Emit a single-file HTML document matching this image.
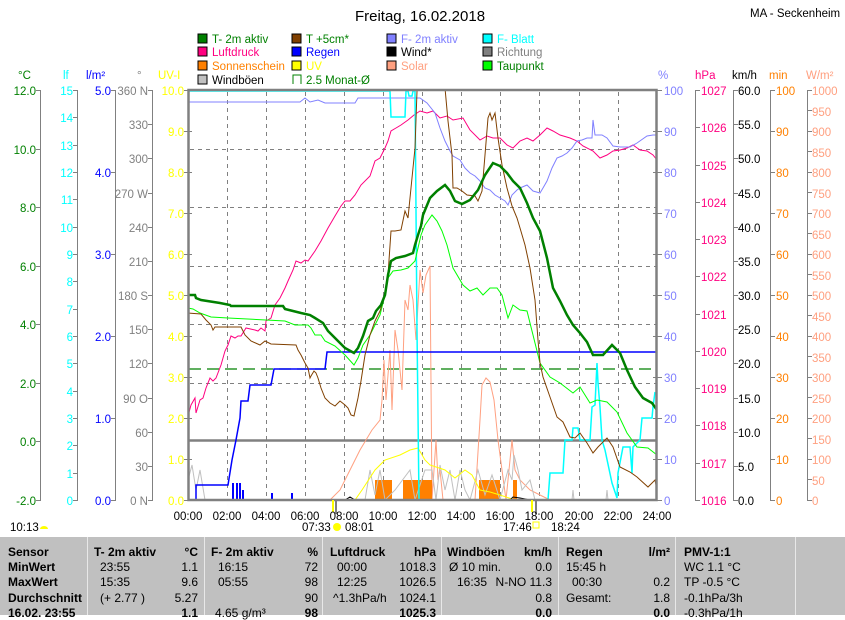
<!DOCTYPE html><html><head><meta charset="utf-8"><style>
body{margin:0;width:845px;height:615px;overflow:hidden;background:#fff;font-family:"Liberation Sans",sans-serif}
svg text{font-family:"Liberation Sans",sans-serif;font-size:11.5px}
.tb{position:absolute;left:0;top:537px;width:845px;height:78px;background:#c0c0c0;font-size:12px;font-family:"Liberation Sans",sans-serif}
.tb div{position:absolute;white-space:nowrap}
.b{font-weight:bold}
.sep{position:absolute;top:0;width:1px;height:78px;background:#e8e8e8}
</style></head><body>
<svg width="845" height="537" style="position:absolute;left:0;top:0">
<defs><clipPath id="pc"><rect x="189" y="90" width="468" height="410"/></clipPath></defs>
<text x="420" y="21" text-anchor="middle" style="font-size:15px">Freitag, 16.02.2018</text>
<text x="750" y="17">MA - Seckenheim</text>
<g stroke="#000" stroke-width="1">
<rect x="198" y="34" width="9" height="9" fill="#008000"/><rect x="292" y="34" width="9" height="9" fill="#804000"/><rect x="387" y="34" width="9" height="9" fill="#8080ff"/><rect x="483" y="34" width="9" height="9" fill="#00ffff"/>
<rect x="198" y="47" width="9" height="9" fill="#ff0080"/><rect x="292" y="47" width="9" height="9" fill="#0000ff"/><rect x="387" y="47" width="9" height="9" fill="#000"/><rect x="483" y="47" width="9" height="9" fill="#808080"/>
<rect x="198" y="61" width="9" height="9" fill="#ff8000"/><rect x="292" y="61" width="9" height="9" fill="#ffff00"/><rect x="387" y="61" width="9" height="9" fill="#ffa080"/><rect x="483" y="61" width="9" height="9" fill="#00ff00"/>
<rect x="198" y="75" width="9" height="9" fill="#c0c0c0"/>
</g>
<path d="M293 84V75h8v9" fill="none" stroke="#008000"/>
<text x="212" y="43" fill="#008000">T- 2m aktiv</text><text x="306" y="43" fill="#008000">T +5cm*</text><text x="401" y="43" fill="#8080ff">F- 2m aktiv</text><text x="497" y="43" fill="#00ffff">F- Blatt</text>
<text x="212" y="56" fill="#ff0080">Luftdruck</text><text x="306" y="56" fill="#0000ff">Regen</text><text x="401" y="56">Wind*</text><text x="497" y="56" fill="#808080">Richtung</text>
<text x="212" y="70" fill="#ff8000">Sonnenschein</text><text x="306" y="70" fill="#ffff00">UV</text><text x="401" y="70" fill="#ffa080">Solar</text><text x="497" y="70" fill="#008000">Taupunkt</text>
<text x="212" y="84">Windböen</text><text x="306" y="84" fill="#008000">2.5 Monat-Ø</text>
<text x="18" y="79" fill="#008000">°C</text><text x="63" y="79" fill="#00ffff">lf</text><text x="86" y="79" fill="#0000ff">l/m²</text><text x="137" y="79" fill="#808080">°</text><text x="158" y="79" fill="#ffff00">UV-I</text>
<text x="658" y="79" fill="#8080ff">%</text><text x="695" y="79" fill="#ff0080">hPa</text><text x="732" y="79">km/h</text><text x="769" y="79" fill="#ff8000">min</text><text x="806" y="79" fill="#ffa080">W/m²</text>
<g stroke="#808080" stroke-width="1"><line x1="40.5" y1="90" x2="40.5" y2="500"/><line x1="77.5" y1="90" x2="77.5" y2="500"/><line x1="115.5" y1="90" x2="115.5" y2="500"/><line x1="152.5" y1="90" x2="152.5" y2="500"/>
<line x1="695.5" y1="90" x2="695.5" y2="500"/><line x1="733.5" y1="90" x2="733.5" y2="500"/><line x1="770.5" y1="90" x2="770.5" y2="500"/><line x1="807.5" y1="90" x2="807.5" y2="500"/></g>
<g stroke="#808080" stroke-dasharray="4,4"><path d="M190 149.5H656M190 207.5H656M190 266.5H656M190 324.5H656M190 383.5H656"/>
<path d="M227.5 92V500M266.5 92V500M305.5 92V500M344.5 92V500M383.5 92V500M422.5 92V500M461.5 92V500M500.5 92V500M539.5 92V500M579.5 92V500M618.5 92V500"/></g>
<line x1="189" y1="440.5" x2="657" y2="440.5" stroke="#808080" stroke-width="2.5"/>
<line x1="189" y1="369" x2="657" y2="369" stroke="#008000" stroke-width="1.2" stroke-dasharray="12,6"/>
<g fill="#008000" text-anchor="end"><text x="36" y="95">12.0</text><text x="36" y="154">10.0</text><text x="36" y="212">8.0</text><text x="36" y="271">6.0</text><text x="36" y="329">4.0</text><text x="36" y="388">2.0</text><text x="36" y="446">0.0</text><text x="36" y="505">-2.0</text></g>
<path d="M36 90.5h5M36 149.5h5M36 207.5h5M36 266.5h5M36 324.5h5M36 383.5h5M36 441.5h5M36 500.5h5" stroke="#808080"/>
<g fill="#00ffff" text-anchor="end"><text x="73" y="95">15</text><text x="73" y="122">14</text><text x="73" y="150">13</text><text x="73" y="177">12</text><text x="73" y="204">11</text><text x="73" y="232">10</text><text x="73" y="259">9</text><text x="73" y="286">8</text><text x="73" y="314">7</text><text x="73" y="341">6</text><text x="73" y="368">5</text><text x="73" y="396">4</text><text x="73" y="423">3</text><text x="73" y="450">2</text><text x="73" y="478">1</text><text x="73" y="505">0</text></g>
<path d="M73 90.5h5M73 117.5h5M73 145.5h5M73 172.5h5M73 199.5h5M73 227.5h5M73 254.5h5M73 281.5h5M73 309.5h5M73 336.5h5M73 363.5h5M73 391.5h5M73 418.5h5M73 445.5h5M73 473.5h5M73 500.5h5" stroke="#808080"/>
<g fill="#0000ff" text-anchor="end"><text x="111" y="95">5.0</text><text x="111" y="177">4.0</text><text x="111" y="259">3.0</text><text x="111" y="341">2.0</text><text x="111" y="423">1.0</text><text x="111" y="505">0.0</text></g>
<path d="M111 90.5h5M111 172.5h5M111 254.5h5M111 336.5h5M111 418.5h5M111 500.5h5" stroke="#808080"/>
<g fill="#808080" text-anchor="end"><text x="148" y="95">360 N</text><text x="148" y="129">330</text><text x="148" y="163">300</text><text x="148" y="198">270 W</text><text x="148" y="232">240</text><text x="148" y="266">210</text><text x="148" y="300">180 S</text><text x="148" y="334">150</text><text x="148" y="368">120</text><text x="148" y="403">90 O</text><text x="148" y="437">60</text><text x="148" y="471">30</text><text x="148" y="505">0   N</text></g>
<path d="M148 90.5h5M148 124.5h5M148 158.5h5M148 193.5h5M148 227.5h5M148 261.5h5M148 295.5h5M148 329.5h5M148 363.5h5M148 398.5h5M148 432.5h5M148 466.5h5M148 500.5h5" stroke="#808080"/>
<g fill="#ffff00" text-anchor="end"><text x="184" y="95">10.0</text><text x="184" y="136">9.0</text><text x="184" y="177">8.0</text><text x="184" y="218">7.0</text><text x="184" y="259">6.0</text><text x="184" y="300">5.0</text><text x="184" y="341">4.0</text><text x="184" y="382">3.0</text><text x="184" y="423">2.0</text><text x="184" y="464">1.0</text><text x="184" y="505">0.0</text></g>
<path d="M184 90.5h5M184 131.5h5M184 172.5h5M184 213.5h5M184 254.5h5M184 295.5h5M184 336.5h5M184 377.5h5M184 418.5h5M184 459.5h5M184 500.5h5M188 131.5h4M188 172.5h4M188 213.5h4M188 254.5h4M188 295.5h4M188 336.5h4M188 377.5h4M188 418.5h4M188 459.5h4" stroke="#808080"/>
<g fill="#8080ff"><text x="664" y="95">100</text><text x="664" y="136">90</text><text x="664" y="177">80</text><text x="664" y="218">70</text><text x="664" y="259">60</text><text x="664" y="300">50</text><text x="664" y="341">40</text><text x="664" y="382">30</text><text x="664" y="423">20</text><text x="664" y="464">10</text><text x="664" y="505">0</text></g>
<path d="M657 90.5h5M657 131.5h5M657 172.5h5M657 213.5h5M657 254.5h5M657 295.5h5M657 336.5h5M657 377.5h5M657 418.5h5M657 459.5h5M657 500.5h5M653 131.5h4M653 172.5h4M653 213.5h4M653 254.5h4M653 295.5h4M653 336.5h4M653 377.5h4M653 418.5h4M653 459.5h4M695 90.5h5M695 127.5h5M695 165.5h5M695 202.5h5M695 239.5h5M695 276.5h5M695 314.5h5M695 351.5h5M695 388.5h5M695 425.5h5M695 463.5h5M695 500.5h5" stroke="#808080"/>
<g fill="#ff0080"><text x="701" y="95">1027</text><text x="701" y="132">1026</text><text x="701" y="170">1025</text><text x="701" y="207">1024</text><text x="701" y="244">1023</text><text x="701" y="281">1022</text><text x="701" y="319">1021</text><text x="701" y="356">1020</text><text x="701" y="393">1019</text><text x="701" y="430">1018</text><text x="701" y="468">1017</text><text x="701" y="505">1016</text></g>
<g><text x="738" y="95">60.0</text><text x="738" y="129">55.0</text><text x="738" y="163">50.0</text><text x="738" y="198">45.0</text><text x="738" y="232">40.0</text><text x="738" y="266">35.0</text><text x="738" y="300">30.0</text><text x="738" y="334">25.0</text><text x="738" y="368">20.0</text><text x="738" y="403">15.0</text><text x="738" y="437">10.0</text><text x="738" y="471">5.0</text><text x="738" y="505">0.0</text></g>
<path d="M733 90.5h5M733 124.5h5M733 158.5h5M733 193.5h5M733 227.5h5M733 261.5h5M733 295.5h5M733 329.5h5M733 363.5h5M733 398.5h5M733 432.5h5M733 466.5h5M733 500.5h5M770 90.5h5M770 131.5h5M770 172.5h5M770 213.5h5M770 254.5h5M770 295.5h5M770 336.5h5M770 377.5h5M770 418.5h5M770 459.5h5M770 500.5h5" stroke="#808080"/>
<g fill="#ff8000"><text x="776" y="95">100</text><text x="776" y="136">90</text><text x="776" y="177">80</text><text x="776" y="218">70</text><text x="776" y="259">60</text><text x="776" y="300">50</text><text x="776" y="341">40</text><text x="776" y="382">30</text><text x="776" y="423">20</text><text x="776" y="464">10</text><text x="776" y="505">0</text></g>
<g fill="#ffa080"><text x="812" y="95">1000</text><text x="812" y="116">950</text><text x="812" y="136">900</text><text x="812" y="157">850</text><text x="812" y="177">800</text><text x="812" y="198">750</text><text x="812" y="218">700</text><text x="812" y="239">650</text><text x="812" y="259">600</text><text x="812" y="280">550</text><text x="812" y="300">500</text><text x="812" y="321">450</text><text x="812" y="341">400</text><text x="812" y="362">350</text><text x="812" y="382">300</text><text x="812" y="403">250</text><text x="812" y="423">200</text><text x="812" y="444">150</text><text x="812" y="464">100</text><text x="812" y="485">50</text><text x="812" y="505">0</text></g>
<path d="M807 90.5h5M807 110.5h5M807 131.5h5M807 151.5h5M807 172.5h5M807 192.5h5M807 213.5h5M807 233.5h5M807 254.5h5M807 274.5h5M807 295.5h5M807 315.5h5M807 336.5h5M807 356.5h5M807 377.5h5M807 397.5h5M807 418.5h5M807 438.5h5M807 459.5h5M807 479.5h5M807 500.5h5" stroke="#808080"/>
<g clip-path="url(#pc)">
<polyline fill="none" stroke="#ffa080" points="330,500 340,490 350,470 360,450 372,430 380,420 382,400 384,360 386,400 390,350 392,410 395,330 398,350 402,390 405,300 408,310 410,285 413,300 416,340 420,270 423,293 426,275 430,266 432,500 436,440 438,480 440,470 443,500 475,500 480,420 482,385 486,378 490,382 494,400 498,440 502,470 506,500 512,440 515,470 520,480 530,490 540,495 550,500"/>
<g fill="#ff8000"><rect x="375" y="480" width="17" height="20"/><rect x="403" y="480" width="29" height="20"/><rect x="479" y="480" width="21" height="20"/><rect x="513" y="480" width="4" height="20"/></g>
<polyline fill="none" stroke="#c0c0c0" points="188,480 192,465 196,490 200,470 205,500 365,500 370,470 375,495 380,470 385,500 395,490 410,470 415,500 425,470 432,470 436,500 440,465 445,490 450,470 455,500 460,470 465,490 470,500 478,470 485,495 492,475 500,500 508,470 512,480 514,455 518,470 522,490 530,480 535,500 572,500 573,490 574,500 606,500 607,490 608,500"/>
<polyline fill="none" stroke="#ffff00" points="355,500 362,490 375,470 385,460 400,455 410,450 418,448 425,460 430,465 445,470 455,478 465,470 472,475 480,490 490,492 500,495 515,500"/>
<polyline fill="none" stroke="#000" points="345,500 350,497 355,500 510,500 513,497 520,498 530,500"/>
<polyline fill="none" stroke="#ff0080" points="188,416 191,405 195,398 196,413 200,400 203,398 206,388 210,378 213,381 216,378 221,365 225,351 228,345 231,336 235,338 238,336 241,336 246,328 255,330 258,331 261,328 265,331 266,321 271,318 275,305 280,298 285,288 288,281 293,270 296,261 301,263 305,260 308,261 315,251 321,241 328,228 335,216 341,206 345,201 350,201 355,195 361,185 370,176 375,161 380,158 385,148 388,141 391,131 396,128 401,125 408,120 414,115 420,111 427,113 433,111 440,118 447,116 453,120 463,118 470,130 480,140 487,136 493,138 500,138 507,145 513,148 520,141 527,138 533,141 540,135 547,128 553,131 560,135 570,138 577,141 583,146 593,151 600,158 607,155 613,151 620,150 627,148 633,145 640,150 647,151 653,155 657,160"/>
<polyline fill="none" stroke="#8080ff" points="188,102 300,102 305,98 310,102 318,100 325,103 355,103 358,98 420,98 427,103 435,113 440,128 445,141 450,151 453,156 460,160 465,168 470,173 475,176 480,181 485,188 490,190 495,195 500,198 505,201 508,205 512,195 517,190 520,188 527,185 533,191 540,193 543,188 547,181 552,168 557,158 562,156 567,153 572,148 577,141 582,140 587,138 592,138 593,120 595,135 602,135 607,138 613,146 620,147 630,147 637,143 647,136 653,135 657,135"/>
<polyline fill="none" stroke="#00ffff" stroke-width="1.5" points="189,91 390,91 391,117 405,117 406,91 408,91 409,96 412,96 413,91 415,91 417,330 419,500 548,500 550,473 563,473 565,440 572,440 573,428 578,428 580,440 590,440 592,407 595,405 597,363 598,383 600,407 602,440 605,450 612,483 617,498 618,473 623,447 630,447 632,473 633,447 640,440 642,418 652,418 653,407 655,392"/>
<polyline fill="none" stroke="#0000ff" stroke-width="1.5" points="196,500 196,485 228,485 232,460 236,440 240,418 241,401 248,401 250,385 271,385 274,369 325,369 327,352 657,352"/>
<g stroke="#0000ff" stroke-width="2"><path d="M233 483V500M237 483V500M240 483V500M243 490V500M272 493V500M292 493V500"/></g>
<polyline fill="none" stroke="#00ff00" points="188,308 193,309 200,313 211,317 228,318 285,321 295,325 308,325 311,328 315,335 321,335 325,341 335,346 345,355 354,365 358,358 363,345 370,335 375,325 380,315 385,295 388,278 393,271 401,270 408,268 415,261 418,248 421,235 425,225 432,215 437,221 442,231 447,245 453,268 463,285 470,291 477,288 483,295 490,288 497,288 502,295 508,318 513,305 520,310 527,311 533,335 540,363 550,377 560,383 573,393 580,387 590,403 597,400 607,402 617,412 627,433 637,447 648,448 657,455"/>
<polyline fill="none" stroke="#804000" points="188,313 201,314 206,320 211,325 213,330 215,327 241,327 245,335 251,341 260,345 265,341 271,344 296,345 298,350 301,355 305,363 308,368 310,378 311,376 314,371 316,373 318,378 321,388 325,398 330,403 335,406 340,401 345,405 348,408 351,415 354,416 358,398 361,381 365,355 370,335 375,321 380,311 385,295 388,275 391,231 395,231 401,230 405,211 408,218 411,188 415,148 417,91 419,70 444,70 445,88 448,121 452,155 453,188 457,188 462,191 467,195 475,196 478,201 482,191 485,155 488,118 490,113 492,120 495,113 498,138 502,165 507,188 512,206 517,218 520,228 525,245 530,268 535,300 538,340 540,363 543,377 550,397 557,417 563,422 570,437 575,438 580,433 587,443 593,453 598,447 607,438 613,447 620,467 630,472 637,477 648,487 655,480 657,490"/>
<polyline fill="none" stroke="#008000" stroke-width="2.5" points="188,295 195,295 196,298 201,300 220,303 230,305 231,306 283,306 285,309 293,311 301,313 310,315 315,318 323,323 328,331 335,338 345,348 354,353 358,348 363,336 368,321 373,318 376,311 381,305 385,295 388,275 391,261 396,258 405,256 413,253 415,245 418,235 421,226 423,215 430,198 437,191 445,185 450,191 455,201 462,204 470,200 478,190 485,175 493,163 500,166 507,173 513,181 520,188 527,203 533,218 540,231 547,258 553,288 560,301 567,315 573,325 580,333 587,342 593,355 603,355 612,345 620,353 627,370 635,387 643,398 652,403 657,410"/>
</g>
<rect x="188.5" y="90" width="468" height="410" fill="none" stroke="#808080" stroke-width="2.5"/>
<path d="M336 500v14M536 500v14" stroke="#808080" stroke-width="2"/>
<path d="M333 500v12M532 500v12" stroke="#ffff00" stroke-width="2"/>
<g text-anchor="middle"><text x="188" y="520">00:00</text><text x="227" y="520">02:00</text><text x="266" y="520">04:00</text><text x="305" y="520">06:00</text><text x="344" y="520">08:00</text><text x="383" y="520">10:00</text><text x="422" y="520">12:00</text><text x="461" y="520">14:00</text><text x="500" y="520">16:00</text><text x="539" y="520">18:00</text><text x="579" y="520">20:00</text><text x="618" y="520">22:00</text><text x="657" y="520">24:00</text></g>
<text x="10" y="531">10:13</text><path d="M40 529a4 3 0 0 1 8 0z" fill="#ffff00"/>
<text x="302" y="531">07:33</text><circle cx="337" cy="527" r="4" fill="#ffff00"/><text x="345" y="531">08:01</text>
<text x="503" y="531">17:46</text><rect x="533" y="522" width="6" height="6" fill="none" stroke="#ffff00"/><text x="551" y="531">18:24</text>
</svg>
<div class="tb">
<div class="sep" style="left:87px"></div><div class="sep" style="left:204px"></div><div class="sep" style="left:322px"></div><div class="sep" style="left:441px"></div><div class="sep" style="left:558px"></div><div class="sep" style="left:675px"></div><div class="sep" style="left:795px"></div>
<div class="b" style="left:8px;top:8px">Sensor</div><div class="b" style="left:8px;top:23px">MinWert</div><div class="b" style="left:8px;top:38px">MaxWert</div><div class="b" style="left:8px;top:54px">Durchschnitt</div><div class="b" style="left:8px;top:69px">16.02. 23:55</div>
<div class="b" style="left:94px;top:8px">T- 2m aktiv</div><div class="b" style="right:647px;top:8px">°C</div>
<div style="left:100px;top:23px">23:55</div><div style="right:647px;top:23px">1.1</div>
<div style="left:100px;top:38px">15:35</div><div style="right:647px;top:38px">9.6</div>
<div style="left:100px;top:54px">(+ 2.77 )</div><div style="right:647px;top:54px">5.27</div><div class="b" style="right:647px;top:69px">1.1</div>
<div class="b" style="left:211px;top:8px">F- 2m aktiv</div><div class="b" style="right:527px;top:8px">%</div>
<div style="left:218px;top:23px">16:15</div><div style="right:527px;top:23px">72</div>
<div style="left:218px;top:38px">05:55</div><div style="right:527px;top:38px">98</div>
<div style="right:527px;top:54px">90</div><div style="left:215px;top:69px">4.65 g/m³</div><div class="b" style="right:527px;top:69px">98</div>
<div class="b" style="left:330px;top:8px">Luftdruck</div><div class="b" style="right:409px;top:8px">hPa</div>
<div style="left:337px;top:23px">00:00</div><div style="right:409px;top:23px">1018.3</div>
<div style="left:337px;top:38px">12:25</div><div style="right:409px;top:38px">1026.5</div>
<div style="left:333px;top:54px">^1.3hPa/h</div><div style="right:409px;top:54px">1024.1</div><div class="b" style="right:409px;top:69px">1025.3</div>
<div class="b" style="left:447px;top:8px">Windböen</div><div class="b" style="right:293px;top:8px">km/h</div>
<div style="left:449px;top:23px">Ø 10 min.</div><div style="right:293px;top:23px">0.0</div>
<div style="left:457px;top:38px">16:35</div><div style="right:293px;top:38px">N-NO 11.3</div>
<div style="right:293px;top:54px">0.8</div><div class="b" style="right:293px;top:69px">0.0</div>
<div class="b" style="left:566px;top:8px">Regen</div><div class="b" style="right:175px;top:8px">l/m²</div>
<div style="left:566px;top:23px">15:45 h</div>
<div style="left:572px;top:38px">00:30</div><div style="right:175px;top:38px">0.2</div>
<div style="left:566px;top:54px">Gesamt:</div><div style="right:175px;top:54px">1.8</div><div class="b" style="right:175px;top:69px">0.0</div>
<div class="b" style="left:684px;top:8px">PMV-1:1</div>
<div style="left:684px;top:23px">WC 1.1 °C</div><div style="left:684px;top:38px">TP -0.5 °C</div><div style="left:684px;top:54px">-0.1hPa/3h</div><div style="left:684px;top:69px">-0.3hPa/1h</div>
</div>
</body></html>
